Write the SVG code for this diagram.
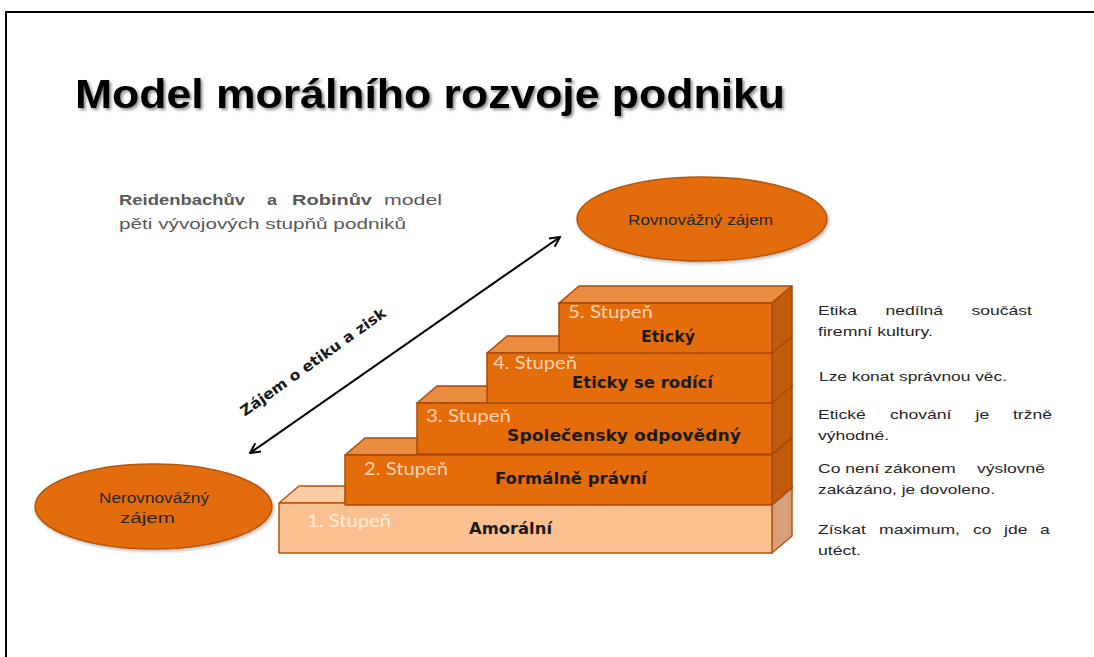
<svg xmlns="http://www.w3.org/2000/svg" width="1094" height="657" viewBox="0 0 1094 657">
  <defs>
    <style>
      .frame { fill: none; stroke: #000; stroke-width: 2; }
      .title { font-family: "Liberation Sans", Arial, sans-serif; font-weight: bold; font-size: 40px; fill: #000; }
      .sub { font-family: "Liberation Sans", Arial, sans-serif; font-size: 15.5px; fill: #595959; }
      .subb { font-weight: bold; }
      .ell { fill: #E36C0A; stroke: #B5560D; stroke-width: 1.5; }
      .ell-t { font-family: "Liberation Sans", Arial, sans-serif; font-size: 14px; fill: #262626; }
      .desc { font-family: "Liberation Sans", Arial, sans-serif; font-size: 13.5px; fill: #262626; }
      .front { fill: #E46C0A; stroke: #A94A08; stroke-width: 1.5; stroke-linejoin: round; }
      .top { fill: #EA8C40; stroke: #A94A08; stroke-width: 1.5; stroke-linejoin: round; }
      .side { fill: #C25B0B; stroke: #A94A08; stroke-width: 1.5; stroke-linejoin: round; }
      .front1 { fill: #FAC090; stroke: #B5560D; stroke-width: 1.5; stroke-linejoin: round; }
      .top1 { fill: #FBCBA3; stroke: #B5560D; stroke-width: 1.5; stroke-linejoin: round; }
      .side1 { fill: #D6A07C; stroke: #B5560D; stroke-width: 1.5; stroke-linejoin: round; }
      .lvl { font-family: Lato, "Open Sans", sans-serif; font-size: 17px; fill: #FBD3B2; }
      .lvl1 { fill: #FFEBDC; }
      .name { font-family: "DejaVu Sans", Verdana, sans-serif; font-weight: bold; font-size: 15px; fill: #1A1A1A; text-anchor: middle; }
      .conn { fill: none; stroke: #000; stroke-width: 2; }
      .conn-t { font-family: "DejaVu Sans", Verdana, sans-serif; font-weight: bold; font-size: 14.5px; fill: #1A1A1A; text-anchor: middle; }
    </style>
    <filter id="tshadow" x="-5%" y="-30%" width="110%" height="160%">
      <feDropShadow dx="2" dy="2" stdDeviation="1.5" flood-color="#000" flood-opacity="0.45"/>
    </filter>
    <filter id="eshadow" x="-10%" y="-10%" width="125%" height="130%">
      <feDropShadow dx="1.5" dy="2" stdDeviation="1.5" flood-color="#000" flood-opacity="0.25"/>
    </filter>
    <marker id="arr" viewBox="0 0 12 12" refX="11" refY="6" markerWidth="12" markerHeight="12" markerUnits="userSpaceOnUse" orient="auto-start-reverse">
      <path d="M1,1 L11,6 L1,11" fill="none" stroke="#000" stroke-width="2"/>
    </marker>
  </defs>

  <rect width="1094" height="657" fill="#fff"/>
  <path class="frame" d="M6,657 V12 H1094"/>

  <g id="title">
    <text class="title" x="75" y="108" textLength="710" lengthAdjust="spacingAndGlyphs" filter="url(#tshadow)">Model morálního rozvoje podniku</text>
  </g>

  <g id="subtitle" class="sub">
    <text x="119" y="205" class="subb" textLength="126" lengthAdjust="spacingAndGlyphs">Reidenbachův</text>
    <text x="267" y="205" class="subb" textLength="10" lengthAdjust="spacingAndGlyphs">a</text>
    <text x="292" y="205" class="subb" textLength="80" lengthAdjust="spacingAndGlyphs">Robinův</text>
    <text x="384" y="205" textLength="58" lengthAdjust="spacingAndGlyphs">model</text>
    <text x="119" y="229" textLength="287" lengthAdjust="spacingAndGlyphs">pěti vývojových stupňů podniků</text>
  </g>

  <g id="node-rovnovazny">
    <ellipse class="ell" cx="702" cy="219" rx="125" ry="42" filter="url(#eshadow)"/>
    <text class="ell-t" x="628" y="225" textLength="145" lengthAdjust="spacingAndGlyphs">Rovnovážný zájem</text>
  </g>

  <g id="node-nerovnovazny">
    <ellipse class="ell" cx="153.5" cy="506.5" rx="118.5" ry="42.5" filter="url(#eshadow)"/>
    <text class="ell-t" x="99" y="503" textLength="110" lengthAdjust="spacingAndGlyphs">Nerovnovážný</text>
    <text class="ell-t" x="120" y="523" textLength="55" lengthAdjust="spacingAndGlyphs">zájem</text>
  </g>

  <g id="step1">
    <path class="top1" d="M279,503 L772,503 L792,486 L299,486 Z"/>
    <path class="side1" d="M772,503 L792,486 L792,536 L772,553 Z"/>
    <rect class="front1" x="279" y="503" width="493" height="50"/>
    <text class="lvl lvl1" x="307" y="527" textLength="84" lengthAdjust="spacingAndGlyphs">1. Stupeň</text>
    <text class="name" x="510.5" y="534" textLength="83" lengthAdjust="spacingAndGlyphs">Amorální</text>
  </g>

  <g id="step2">
    <path class="top" d="M345,455 L772,455 L792,438 L365,438 Z"/>
    <path class="side" d="M772,455 L792,438 L792,488 L772,505 Z"/>
    <rect class="front" x="345" y="455" width="427" height="50"/>
    <text class="lvl" x="364" y="475" textLength="84" lengthAdjust="spacingAndGlyphs">2. Stupeň</text>
    <text class="name" x="571" y="484" textLength="152" lengthAdjust="spacingAndGlyphs">Formálně právní</text>
  </g>

  <g id="step3">
    <path class="top" d="M417,403 L772,403 L792,386 L437,386 Z"/>
    <path class="side" d="M772,403 L792,386 L792,437 L772,454 Z"/>
    <rect class="front" x="417" y="403" width="355" height="51"/>
    <text class="lvl" x="426" y="422" textLength="85" lengthAdjust="spacingAndGlyphs">3. Stupeň</text>
    <text class="name" x="624" y="441" textLength="234" lengthAdjust="spacingAndGlyphs">Společensky odpovědný</text>
  </g>

  <g id="step4">
    <path class="top" d="M487,353 L772,353 L792,336 L507,336 Z"/>
    <path class="side" d="M772,353 L792,336 L792,386 L772,403 Z"/>
    <rect class="front" x="487" y="353" width="285" height="50"/>
    <text class="lvl" x="493" y="369" textLength="84" lengthAdjust="spacingAndGlyphs">4. Stupeň</text>
    <text class="name" x="642.5" y="388" textLength="141" lengthAdjust="spacingAndGlyphs">Eticky se rodící</text>
  </g>

  <g id="step5">
    <path class="top" d="M559,303 L772,303 L792,286 L579,286 Z"/>
    <path class="side" d="M772,303 L792,286 L792,336 L772,353 Z"/>
    <rect class="front" x="559" y="303" width="213" height="50"/>
    <text class="lvl" x="568" y="318" textLength="85" lengthAdjust="spacingAndGlyphs">5. Stupeň</text>
    <text class="name" x="668" y="342" textLength="54" lengthAdjust="spacingAndGlyphs">Etický</text>
  </g>

  <g id="descriptions" class="desc">
    <text x="818" y="315" textLength="39" lengthAdjust="spacingAndGlyphs">Etika</text>
    <text x="885.5" y="315" textLength="57.6" lengthAdjust="spacingAndGlyphs">nedílná</text>
    <text x="971.5" y="315" textLength="60.5" lengthAdjust="spacingAndGlyphs">součást</text>
    <text x="818" y="336" textLength="115" lengthAdjust="spacingAndGlyphs">firemní kultury.</text>

    <text x="819" y="381" textLength="188" lengthAdjust="spacingAndGlyphs">Lze konat správnou věc.</text>

    <text x="818" y="419" textLength="47.8" lengthAdjust="spacingAndGlyphs">Etické</text>
    <text x="890" y="419" textLength="61.5" lengthAdjust="spacingAndGlyphs">chování</text>
    <text x="975.5" y="419" textLength="13.7" lengthAdjust="spacingAndGlyphs">je</text>
    <text x="1013" y="419" textLength="39" lengthAdjust="spacingAndGlyphs">tržně</text>
    <text x="818" y="440" textLength="71" lengthAdjust="spacingAndGlyphs">výhodné.</text>

    <text x="818" y="473" textLength="137.5" lengthAdjust="spacingAndGlyphs">Co není zákonem</text>
    <text x="977" y="473" textLength="68" lengthAdjust="spacingAndGlyphs">výslovně</text>
    <text x="818" y="494" textLength="177" lengthAdjust="spacingAndGlyphs">zakázáno, je dovoleno.</text>

    <text x="818" y="534" textLength="47.8" lengthAdjust="spacingAndGlyphs">Získat</text>
    <text x="879" y="534" textLength="81" lengthAdjust="spacingAndGlyphs">maximum,</text>
    <text x="973" y="534" textLength="18.5" lengthAdjust="spacingAndGlyphs">co</text>
    <text x="1004" y="534" textLength="23.4" lengthAdjust="spacingAndGlyphs">jde</text>
    <text x="1040" y="534" textLength="9.8" lengthAdjust="spacingAndGlyphs">a</text>
    <text x="818" y="555" textLength="43" lengthAdjust="spacingAndGlyphs">utéct.</text>
  </g>

  <g id="connectors">
    <line class="conn" x1="250" y1="453" x2="560" y2="237" marker-start="url(#arr)" marker-end="url(#arr)"/>
    <text class="conn-t" x="316" y="366" transform="rotate(-35.5 316 366)" textLength="175" lengthAdjust="spacingAndGlyphs">Zájem o etiku a zisk</text>
  </g>
</svg>
